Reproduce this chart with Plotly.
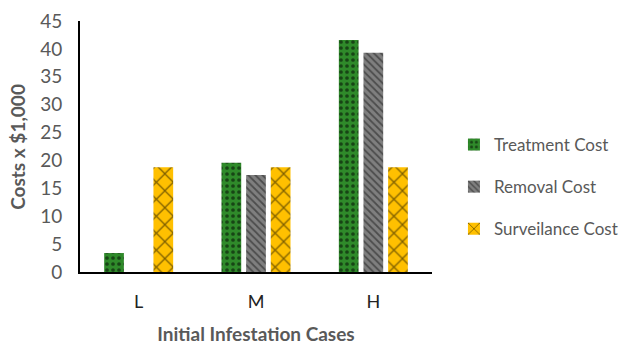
import plotly.graph_objects as go

categories = ["L", "M", "H"]
treatment_cost = [3.4, 19.6, 41.6]
removal_cost = [None, 17.4, 39.3]
surveillance_cost = [18.8, 18.8, 18.8]

series = [
    ("Treatment Cost", treatment_cost, "#2f8a2a", "#000000", ".", 0.3, 6),
    ("Removal Cost", removal_cost, "#7f7f7f", "#1a1a1a", "\\", 0.35, 5),
    ("Surveilance Cost", surveillance_cost, "#ffc000", "#000000", "x", 0.2, 12),
]

fig = go.Figure()
for name, vals, bg, fg, shape, solid, size in series:
    fig.add_trace(go.Bar(
        name=name, x=categories, y=vals, legendgroup=name,
        marker=dict(
            color=bg,
            line=dict(width=0),
            pattern=dict(shape=shape, fgcolor=fg, bgcolor=bg,
                         solidity=solid, size=size, fillmode="overlay"),
        ),
    ))

grey = "#595959"

# vertical axis title placed as a rotated annotation left of the tick labels
fig.add_annotation(
    text="<b>Costs x $1,000</b>", textangle=-90, showarrow=False,
    xref="paper", yref="paper", x=-0.178, y=0.5,
    xanchor="center", yanchor="middle",
    font=dict(size=19, color=grey),
)

fig.update_layout(
    width=634, height=345,
    margin=dict(l=80, r=202, t=21, b=73, autoexpand=False),
    paper_bgcolor="white", plot_bgcolor="white",
    barmode="group", bargap=0.37, bargroupgap=0.2,
    font=dict(family="Lato, 'Open Sans', sans-serif", color=grey, size=16),
    legend=dict(xref="container", yref="container", x=0.716, y=0.458,
                xanchor="left", yanchor="middle",
                font=dict(size=17, color=grey), itemsizing="constant",
                itemwidth=30, tracegroupgap=17, bgcolor="rgba(0,0,0,0)"),
    xaxis=dict(
        showline=True, linecolor="black", linewidth=2, ticks="",
        showgrid=False, tickfont=dict(size=18, color="#222"),
        ticklabelstandoff=12, automargin=False,
        title=dict(text="<b>Initial Infestation Cases</b>",
                   font=dict(size=19, color=grey), standoff=19),
    ),
    yaxis=dict(
        range=[0, 45], dtick=5, showline=True, linecolor="black", linewidth=2,
        showgrid=False, ticks="", zeroline=False, automargin=False,
        tickfont=dict(size=19, color=grey), ticklabelstandoff=12,
    ),
)

fig.write_html("out.html")
